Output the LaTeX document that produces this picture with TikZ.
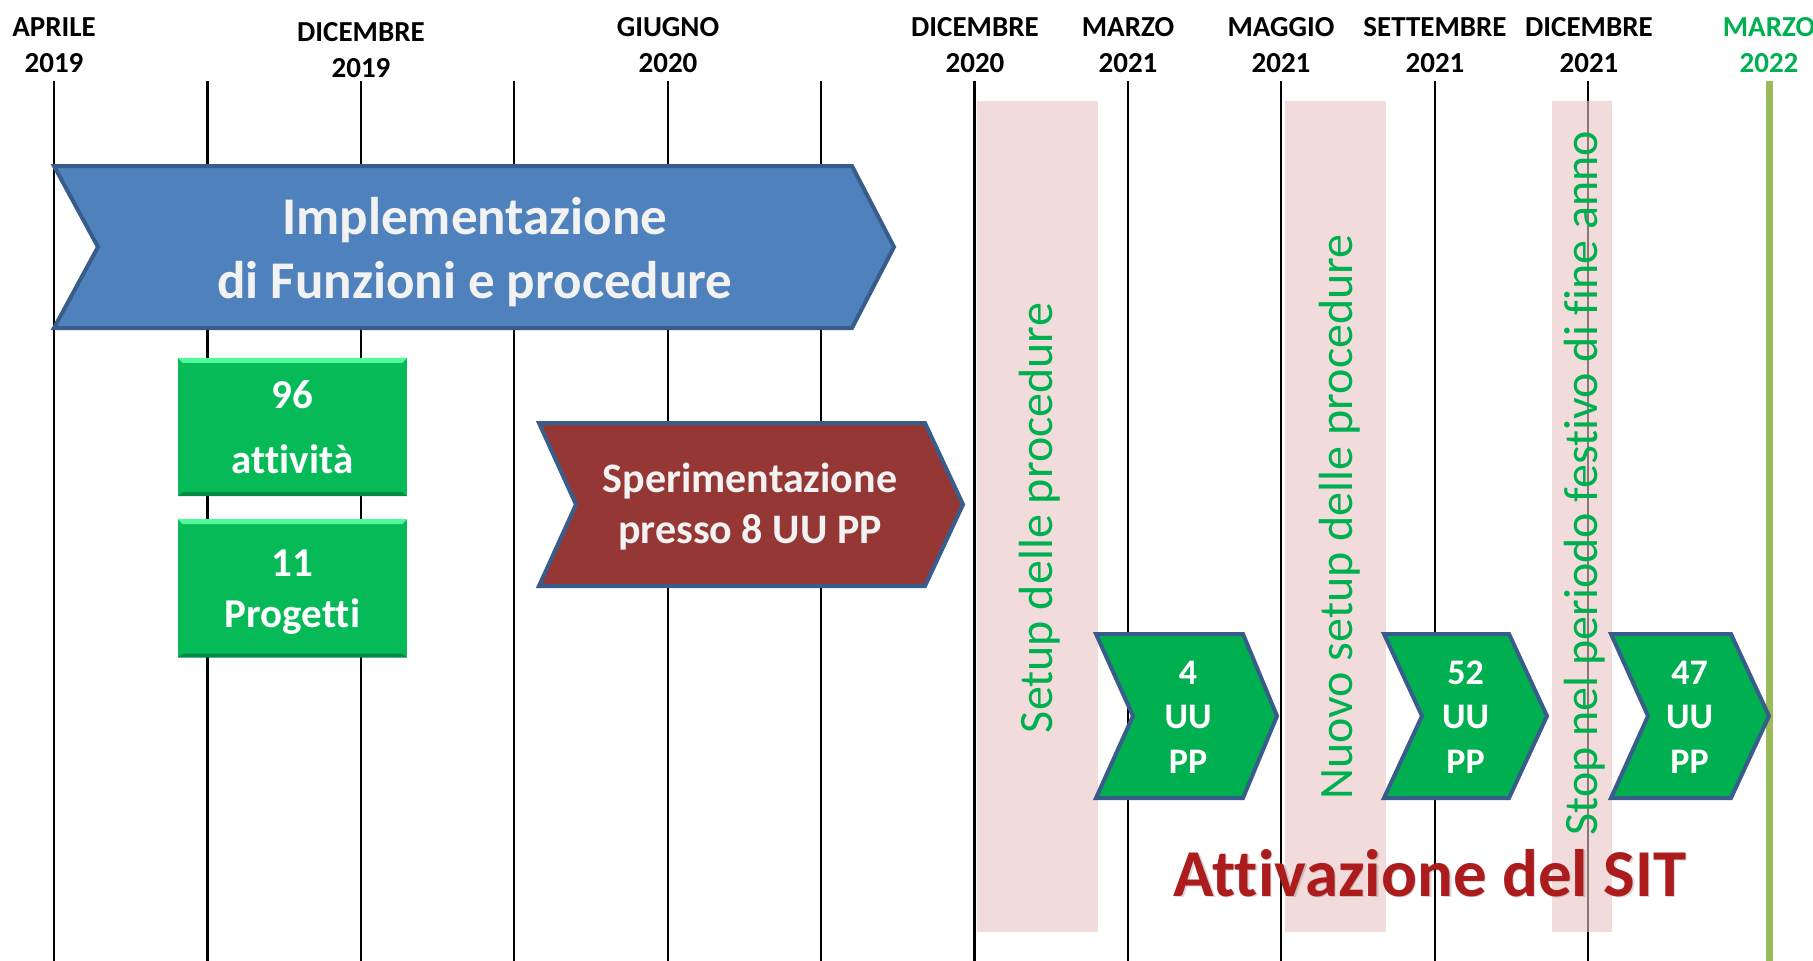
\documentclass[tikz,border=0pt]{standalone}
\usepackage{fontspec}
\setmainfont{Carlito}[Ligatures=NoCommon]
\usepackage{tikz}
\usetikzlibrary{positioning}
\definecolor{SitGreen}{RGB}{0,176,80}
\definecolor{BoxGreen}{RGB}{6,187,87}
\definecolor{BevelLight}{RGB}{80,250,155}
\definecolor{BevelDark}{RGB}{0,140,66}
\definecolor{ChevBorder}{RGB}{56,93,138}
\definecolor{ImplBlue}{RGB}{79,129,189}
\definecolor{SperRed}{RGB}{149,55,53}
\definecolor{SetupPink}{RGB}{233,197,195}
\definecolor{EndOlive}{RGB}{155,187,89}
\definecolor{SitRed}{RGB}{172,28,28}

\begin{document}
\begin{tikzpicture}[
  x=1pt, y=-1pt,
  tick/.style={line width=2.2pt, black},
  band/.style={fill=SetupPink, opacity=0.6},
  month/.style={font=\fontsize{29}{36}\selectfont\bfseries, align=center, inner sep=0pt},
  chev/.style={draw=ChevBorder, line width=4pt, fill=#1},
  chevtext/.style={text=white, align=center, inner sep=0pt,
                   font=\fontsize{36}{44.5}\selectfont\bfseries},
  greenbox/.style={fill=BoxGreen, minimum width=229pt, minimum height=138pt,
                   inner sep=0pt, text=white, align=center},
  vtext/.style={rotate=90, text=SitGreen, inner sep=0pt,
                font=\fontsize{48}{58}\selectfont},
]
  \useasboundingbox[fill=white] (0,0) rectangle (1813,961);

  % timeline grid
  \foreach \i in {0,...,10}
    \draw[tick] ({54+153.4*\i},81) -- ++(0,880);
  \draw[line width=7pt, EndOlive] (1769,81) -- (1769,961);

  \fill[band] (977,101) rectangle (1098,932);
  \fill[band] (1285,101) rectangle (1386,932);
  \fill[band] (1552,101) rectangle (1612,932);

  % month headers
  \foreach \x/\mon/\yr/\yc in {54/APRILE/2019/45, 361/DICEMBRE/2019/50,
      668/GIUGNO/2020/45, 975/DICEMBRE/2020/45, 1128/MARZO/2021/45,
      1281/MAGGIO/2021/45, 1435/SETTEMBRE/2021/45, 1589/DICEMBRE/2021/45}
    \node[month] (m\x) at (\x,\yc) {\mon\\\yr};
  \node[month, text=SitGreen] (m1769) at (1769,45) {MARZO\\2022};

  % implementazione
  \draw[chev=ImplBlue] (54,166) -- (852,166) -- (894,247) -- (852,328)
    -- (54,328) -- (98,247) -- cycle;
  \node[text=white!95!black, align=center, inner sep=0pt,
        font=\fontsize{53}{64}\selectfont\bfseries] (impl) at (475,252)
    {Implementazione\\di Funzioni e procedure};

  \node[greenbox, font=\fontsize{41}{65}\selectfont\bfseries] (att) at (292.5,427)
    {96\\attività};
  \node[greenbox, font=\fontsize{41}{51}\selectfont\bfseries, text depth=0pt,
        below=23pt of att] (prog) {11\\Progetti};
  \foreach \b in {att,prog} {
    \fill[BevelLight] (\b.north west) -- (\b.north east)
      -- ([shift={(-5,5)}]\b.north east) -- ([shift={(5,5)}]\b.north west) -- cycle;
    \fill[BevelDark] (\b.south west) -- (\b.south east)
      -- ([shift={(-5,-4)}]\b.south east) -- ([shift={(5,-4)}]\b.south west) -- cycle;
  }

  % sperimentazione
  \draw[chev=SperRed] (539,423) -- (925,423) -- (963,504.5) -- (925,586)
    -- (539,586) -- (576,504.5) -- cycle;
  \node[text=white!95!black, align=center, inner sep=0pt,
        font=\fontsize{42}{51}\selectfont\bfseries] (sper) at (750,507)
    {Sperimentazione\\presso 8 UU PP};

  % setup phases
  \node[vtext] (setup) at (1040,518) {Setup delle procedure};
  \node[vtext] (nuovo) at (1340,517) {Nuovo setup delle procedure};
  \node[vtext] (stop) at (1585,483) {Stop nel periodo festivo di fine anno};

  % rollout waves
  \foreach \a/\b/\c/\d/\n in {1096/1133/1243/1277/4, 1384/1422/1509/1547/52,
      1611/1648/1731/1769/47} {
    \draw[chev=SitGreen] (\a,634) -- (\c,634) -- (\d,716) -- (\c,798)
      -- (\a,798) -- (\b,716) -- cycle;
    \node[chevtext] (uu\n) at ({(\b+\c)/2},717) {\n\\UU\\PP};
  }

  \node[font=\fontsize{67}{80}\selectfont\bfseries, text=black, opacity=0.15,
        anchor=base, inner sep=0pt] (sitshadow) at (1431.5,897.5) {Attivazione del SIT};
  \node[font=\fontsize{67}{80}\selectfont\bfseries, text=SitRed,
        anchor=base, inner sep=0pt] (sit) at (1430,896) {Attivazione del SIT};
\end{tikzpicture}
\end{document}
